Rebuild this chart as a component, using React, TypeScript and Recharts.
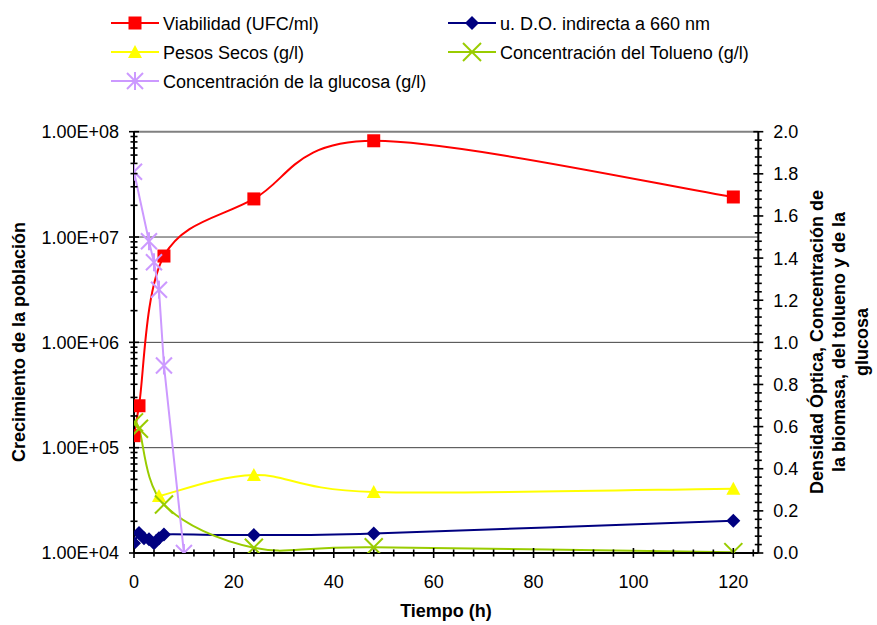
import React from 'react';
import { ComposedChart, Line, XAxis, YAxis, ReferenceLine, Legend, Label } from 'recharts';

const FONT = '"Liberation Sans", Arial, sans-serif';

// ---- data ----
const times = [0, 1, 2, 3, 4, 5, 6, 10, 24, 48, 120];
const viabilidad = [1.3e5, 2.5e5, null, null, null, null, 6.6e6, null, 2.3e7, 8.2e7, 2.4e7];
const densidadOptica = [0.046, 0.095, 0.07, 0.065, 0.046, 0.07, 0.088, null, 0.085, 0.093, 0.153];
const pesosSecos = [null, null, null, null, null, 0.27, null, null, 0.37, 0.29, 0.305];
const tolueno = [0.62, 0.59, null, null, null, null, 0.23, null, 0.025, 0.027, 0.004];
const glucosa = [1.81, null, null, 1.48, 1.38, 1.25, 0.89, 0.0, null, null, null];

const seriesNames = [
  'Viabilidad (UFC/ml)',
  'u. D.O. indirecta a 660 nm',
  'Pesos Secos (g/l)',
  'Concentración del Tolueno (g/l)',
  'Concentración de la glucosa (g/l)',
];

const xMajorTicks = [0, 20, 40, 60, 80, 100, 120];
const leftMajorTicks = [1e4, 1e5, 1e6, 1e7, 1e8];
const rightMajorTicks = [0, 0.2, 0.4, 0.6, 0.8, 1.0, 1.2, 1.4, 1.6, 1.8, 2.0];

const xTitle = 'Tiempo (h)';
const leftTitle = 'Crecimiento de la población';
const rightTitleLines = ['Densidad Óptica, Concentración de', 'la biomasa, del tolueno y de la', 'glucosa'];

// ---- styling ----
const RED = '#FF0000';
const NAVY = '#000080';
const YELLOW = '#FFFF00';
const GREEN = '#99CC00';
const LAVENDER = '#CC99FF';

const rows = times.map((t, i) => ({
  t,
  viab: viabilidad[i],
  dO: densidadOptica[i],
  peso: pesosSecos[i],
  tol: tolueno[i],
  glu: glucosa[i],
}));

// minor tick positions (axis decoration)
const xTicks: number[] = [];
for (let v = 0; v <= 124; v += 4) xTicks.push(v);
const leftTicks: number[] = [];
for (let e = 4; e <= 8; e++) {
  const base = Math.pow(10, e);
  if (e === 8) { leftTicks.push(base); break; }
  for (let m = 1; m <= 9; m++) leftTicks.push(m * base);
}
const rightTicks: number[] = [];
for (let k = 0; k <= 50; k++) rightTicks.push(Math.round(k * 4) / 100);

const isMajorRight = (v: number) => rightMajorTicks.some((m) => Math.abs(m - v) < 1e-6);
const isMajorLeft = (v: number) => leftMajorTicks.some((m) => Math.abs(m - v) / m < 1e-6);
const isMajorX = (v: number) => xMajorTicks.includes(v);

const fmtExp = (v: number) => {
  const s = v.toExponential(2);
  const [mant, ex] = s.split('e');
  const sign = ex[0] === '-' ? '-' : '+';
  const digits = ex.replace(/[+-]/, '').padStart(2, '0');
  return `${mant}E${sign}${digits}`;
};

// Excel-like smoothing (Catmull-Rom as cubic Bezier)
const excelSmooth: any = (context: any) => {
  let pts: number[][] = [];
  return {
    areaStart() {},
    areaEnd() {},
    lineStart() { pts = []; },
    point(x: number, y: number) { pts.push([+x, +y]); },
    lineEnd() {
      const n = pts.length;
      if (!n) return;
      context.moveTo(pts[0][0], pts[0][1]);
      for (let i = 0; i < n - 1; i++) {
        const p0 = pts[Math.max(i - 1, 0)];
        const p1 = pts[i];
        const p2 = pts[i + 1];
        const p3 = pts[Math.min(i + 2, n - 1)];
        context.bezierCurveTo(
          p1[0] + (p2[0] - p0[0]) / 6,
          p1[1] + (p2[1] - p0[1]) / 6,
          p2[0] - (p3[0] - p1[0]) / 6,
          p2[1] - (p3[1] - p1[1]) / 6,
          p2[0],
          p2[1]
        );
      }
    },
  };
};

const drawMarker = (shape: string, color: string, cx: number, cy: number) => {
  switch (shape) {
    case 'square':
      return <rect x={cx - 6.5} y={cy - 6.5} width={13} height={13} fill={color} />;
    case 'diamond':
      return <polygon points={`${cx},${cy - 7} ${cx + 7},${cy} ${cx},${cy + 7} ${cx - 7},${cy}`} fill={color} />;
    case 'triangle':
      return <polygon points={`${cx},${cy - 7} ${cx + 7},${cy + 6} ${cx - 7},${cy + 6}`} fill={color} />;
    case 'x':
      return (
        <g stroke={color} strokeWidth={2}>
          <line x1={cx - 9} y1={cy - 9} x2={cx + 9} y2={cy + 9} />
          <line x1={cx - 9} y1={cy + 9} x2={cx + 9} y2={cy - 9} />
        </g>
      );
    case 'star':
      return (
        <g stroke={color} strokeWidth={2}>
          <line x1={cx - 8} y1={cy - 8} x2={cx + 8} y2={cy + 8} />
          <line x1={cx - 8} y1={cy + 8} x2={cx + 8} y2={cy - 8} />
          <line x1={cx} y1={cy - 9} x2={cx} y2={cy + 9} />
        </g>
      );
    default:
      return null;
  }
};

const makeDot = (shape: string, color: string) => (props: any) => {
  const { cx, cy, index } = props;
  const k = `${shape}-${index}`;
  if (cx == null || cy == null || Number.isNaN(cx) || Number.isNaN(cy)) return <g key={k} />;
  return <g key={k}>{drawMarker(shape, color, cx, cy)}</g>;
};

const legendItems = [
  { name: seriesNames[0], color: RED, shape: 'square', col: 0, row: 0 },
  { name: seriesNames[1], color: NAVY, shape: 'diamond', col: 1, row: 0 },
  { name: seriesNames[2], color: YELLOW, shape: 'triangle', col: 0, row: 1 },
  { name: seriesNames[3], color: GREEN, shape: 'x', col: 1, row: 1 },
  { name: seriesNames[4], color: LAVENDER, shape: 'star', col: 0, row: 2 },
];

const LegendSvg = () => {
  const colX = [111, 448];
  const rowY = [23, 52, 81];
  return (
    <svg width={877} height={100} style={{ display: 'block' }}>
      {legendItems.map((it) => {
        const x0 = colX[it.col];
        const y = rowY[it.row];
        const cx = x0 + 24;
        return (
          <g key={it.name}>
            <line x1={x0} x2={x0 + 48} y1={y} y2={y} stroke={it.color} strokeWidth={2} />
            {drawMarker(it.shape, it.color, cx, y)}
            <text x={x0 + 52} y={y + 6.5} fontFamily={FONT} fontSize={18} fill="#000">{it.name}</text>
          </g>
        );
      })}
    </svg>
  );
};

const XTick = (props: any) => {
  const x = Number(props.x);
  const y = Number(props.y);
  const v = Number(props.payload.value);
  const major = isMajorX(v);
  const len = major ? 5 : 3.5;
  return (
    <g>
      <rect x={x - 0.8} y={y - len} width={1.6} height={len * 2} fill="#000" />
      {major && (
        <text x={x} y={y + 35} textAnchor="middle" fontFamily={FONT} fontSize={18} fill="#000">{v}</text>
      )}
    </g>
  );
};

const LeftTick = (props: any) => {
  const x = Number(props.x);
  const y = Number(props.y);
  const v = Number(props.payload.value);
  const major = isMajorLeft(v);
  const len = major ? 5 : 3.5;
  return (
    <g>
      <rect x={x - len} y={y - 0.8} width={len * 2} height={1.6} fill="#000" />
      {major && (
        <text x={x - 15} y={y} dy="0.36em" textAnchor="end" fontFamily={FONT} fontSize={18} fill="#000">{fmtExp(v)}</text>
      )}
    </g>
  );
};

const RightTick = (props: any) => {
  const x = Number(props.x);
  const y = Number(props.y);
  const v = Number(props.payload.value);
  const major = isMajorRight(v);
  const len = major ? 5 : 3.5;
  return (
    <g>
      <rect x={x - len} y={y - 0.8} width={len * 2} height={1.6} fill="#000" />
      {major && (
        <text x={x + 15} y={y} dy="0.36em" textAnchor="start" fontFamily={FONT} fontSize={18} fill="#000">{v.toFixed(1)}</text>
      )}
    </g>
  );
};

export default function App() {
  return (
    <div style={{ position: 'absolute', left: 0, top: 0, width: 877, height: 625, background: '#fff' }}>
      <ComposedChart width={877} height={625} data={rows} margin={{ top: 131.7, right: 0, bottom: 0, left: 0 }}>
        <ReferenceLine yAxisId="left" y={1e5} stroke="#404040" strokeWidth={1} />
        <ReferenceLine yAxisId="left" y={1e6} stroke="#404040" strokeWidth={1} />
        <ReferenceLine yAxisId="left" y={1e7} stroke="#404040" strokeWidth={1} />
        <ReferenceLine yAxisId="left" y={1e8} stroke="#808080" strokeWidth={2} />
        <XAxis
          dataKey="t"
          type="number"
          domain={[0, 125]}
          ticks={xTicks}
          interval={0}
          allowDataOverflow
          height={72}
          tickSize={0}
          tickMargin={0}
          tickLine={false}
          tick={(p: any) => <XTick {...p} />}
          axisLine={{ stroke: '#000', strokeWidth: 2 }}
        >
          <Label
            content={() => (
              <text x={446} y={617} textAnchor="middle" fontFamily={FONT} fontSize={18} fontWeight="bold" fill="#000">{xTitle}</text>
            )}
          />
        </XAxis>
        <YAxis
          yAxisId="left"
          type="number"
          scale="log"
          domain={[1e4, 1e8]}
          ticks={leftTicks}
          interval={0}
          allowDataOverflow
          width={134}
          tickSize={0}
          tickMargin={0}
          tickLine={false}
          tick={(p: any) => <LeftTick {...p} />}
          axisLine={{ stroke: '#000', strokeWidth: 2 }}
        >
          <Label
            content={() => (
              <text x={25} y={342} transform="rotate(-90 25 342)" textAnchor="middle" fontFamily={FONT} fontSize={18} fontWeight="bold" fill="#000">{leftTitle}</text>
            )}
          />
        </YAxis>
        <YAxis
          yAxisId="right"
          orientation="right"
          type="number"
          domain={[0, 2]}
          ticks={rightTicks}
          interval={0}
          allowDataOverflow
          width={118.7}
          tickSize={0}
          tickMargin={0}
          tickLine={false}
          tick={(p: any) => <RightTick {...p} />}
          axisLine={{ stroke: '#000', strokeWidth: 2 }}
        >
          <Label
            content={() => (
              <g>
                {rightTitleLines.map((ln, i) => {
                  const bx = 822.5 + i * 22.5;
                  return (
                    <text key={i} x={bx} y={342} transform={`rotate(-90 ${bx} 342)`} textAnchor="middle" fontFamily={FONT} fontSize={18} fontWeight="bold" fill="#000">{ln}</text>
                  );
                })}
              </g>
            )}
          />
        </YAxis>
        <Legend
          layout="vertical"
          align="center"
          verticalAlign="middle"
          wrapperStyle={{ top: 0, left: 0, width: 877, height: 100 }}
          content={() => <LegendSvg />}
        />
        <Line yAxisId="left" dataKey="viab" name={seriesNames[0]} stroke={RED} strokeWidth={2} type={excelSmooth} dot={makeDot('square', RED)} activeDot={false} connectNulls isAnimationActive={false} />
        <Line yAxisId="right" dataKey="dO" name={seriesNames[1]} stroke={NAVY} strokeWidth={2} type={excelSmooth} dot={makeDot('diamond', NAVY)} activeDot={false} connectNulls isAnimationActive={false} />
        <Line yAxisId="right" dataKey="peso" name={seriesNames[2]} stroke={YELLOW} strokeWidth={2} type={excelSmooth} dot={makeDot('triangle', YELLOW)} activeDot={false} connectNulls isAnimationActive={false} />
        <Line yAxisId="right" dataKey="tol" name={seriesNames[3]} stroke={GREEN} strokeWidth={2} type={excelSmooth} dot={makeDot('x', GREEN)} activeDot={false} connectNulls isAnimationActive={false} />
        <Line yAxisId="right" dataKey="glu" name={seriesNames[4]} stroke={LAVENDER} strokeWidth={2} type="linear" dot={makeDot('star', LAVENDER)} activeDot={false} connectNulls isAnimationActive={false} />
      </ComposedChart>
    </div>
  );
}
